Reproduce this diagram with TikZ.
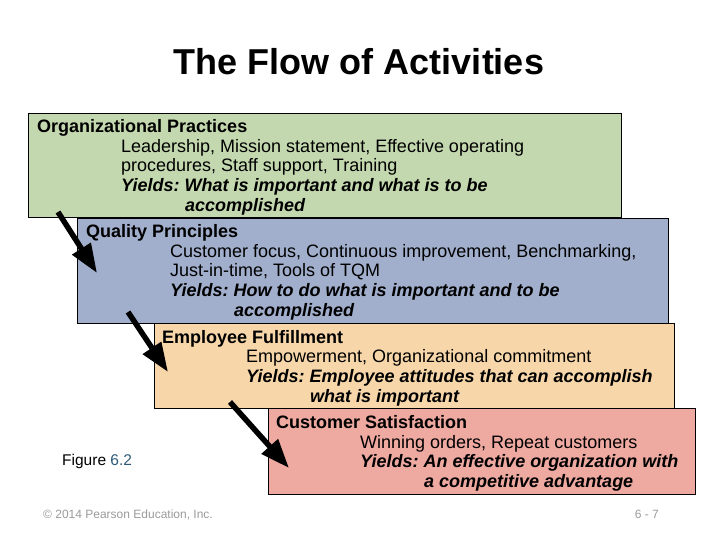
\documentclass[tikz,border=0pt]{standalone}
\usepackage{fontspec}
\setmainfont{Liberation Sans}
\usepackage{xcolor}
\usetikzlibrary{arrows.meta}
\definecolor{orgfill}{HTML}{C3D8AE}
\definecolor{qualfill}{HTML}{A1AFCC}
\definecolor{empfill}{HTML}{F7D7A9}
\definecolor{custfill}{HTML}{EEA9A1}
\definecolor{footgray}{HTML}{9A9A9A}
\definecolor{figblue}{HTML}{2E5B78}
\frenchspacing
\newcommand{\yld}[1]{\textbf{\textit{#1}}}
\newcommand{\indA}{\hspace*{84pt}}
\newcommand{\indB}{\hspace*{148pt}}

\begin{document}
\begin{tikzpicture}[x=1pt,y=-1pt,
  stage/.style={draw=black,line width=0.8pt,anchor=north west,inner sep=0pt},
  stagetext/.style={anchor=north west,align=left,inner sep=0pt,
    font=\fontsize{18}{19.6}\selectfont},
  flow/.style={line width=5.5pt,-{Triangle[length=29pt,width=21pt]}}]
\useasboundingbox (0,0) rectangle (720,540);
\node[font=\fontsize{36}{40}\selectfont\bfseries,anchor=base] (title) at (359,75) {The Flow of Activities};
% stages
\node[stage,fill=orgfill,minimum width=593pt,minimum height=104pt] (org) at (28,113) {};
\node[stage,fill=qualfill,minimum width=591pt,minimum height=105pt] (qual) at (77,218) {};
\node[stage,fill=empfill,minimum width=520pt,minimum height=85pt] (emp) at (154,323) {};
\node[stage,fill=custfill,minimum width=427pt,minimum height=86pt] (cust) at (268,408) {};
\node[stagetext] (orgtext) at (37,119.5) {\textbf{Organizational Practices}\\
\indA Leadership, Mission statement, Effective operating\\
\indA procedures, Staff support, Training\\
\indA\yld{Yields: What is important and what is to be}\\
\indB\yld{accomplished}};
\node[stagetext] (qualtext) at (86,224.5) {\textbf{Quality Principles}\\
\indA Customer focus, Continuous improvement, Benchmarking,\\
\indA Just-in-time, Tools of TQM\\
\indA\yld{Yields: How to do what is important and to be}\\
\indB\yld{accomplished}};
\node[stagetext] (emptext) at (162,330) {\textbf{Employee Fulfillment}\\
\indA Empowerment, Organizational commitment\\
\indA\yld{Yields: Employee attitudes that can accomplish}\\
\indB\yld{what is important}};
\node[stagetext] (custtext) at (276,415.5) {\textbf{Customer Satisfaction}\\
\indA Winning orders, Repeat customers\\
\indA\yld{Yields: An effective organization with}\\
\indB\yld{a competitive advantage}};
% arrows
\coordinate (a1s) at (58,212);
\coordinate (a1e) at (97,273);
\coordinate (a2s) at (128,312);
\coordinate (a2e) at (168,372);
\coordinate (a3s) at (230,402);
\coordinate (a3e) at (289,468);
\draw[flow] (a1s) -- (a1e);
\draw[flow] (a2s) -- (a2e);
\draw[flow] (a3s) -- (a3e);
% captions
\node[anchor=base west,inner sep=0pt,font=\fontsize{15.5}{18}\selectfont] (fig) at (62,465) {Figure \textcolor{figblue}{6.2}};
\node[anchor=base west,inner sep=0pt,font=\fontsize{12}{14}\selectfont,text=footgray] (copy) at (43,518) {\textcopyright{} 2014 Pearson Education, Inc.};
\node[anchor=base east,inner sep=0pt,font=\fontsize{12}{14}\selectfont,text=footgray] (page) at (659,518) {6 - 7};
\end{tikzpicture}
\end{document}
